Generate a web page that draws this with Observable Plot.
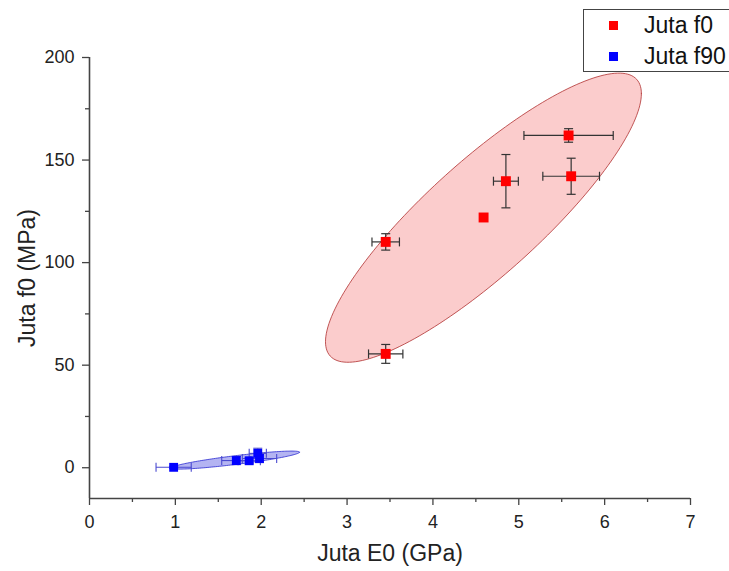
<!DOCTYPE html>
<html><head><meta charset="utf-8">
<script src="https://cdn.jsdelivr.net/npm/d3@7"></script>
<script src="https://cdn.jsdelivr.net/npm/@observablehq/plot@0.6"></script>
<style>
body{margin:0;background:#fff;}
#wrap{position:relative;width:729px;height:571px;overflow:hidden;font-family:"Liberation Sans",Arial,sans-serif;}
#legend{position:absolute;left:583px;top:9px;width:170px;height:63px;border:1px solid #444;background:#fff;box-sizing:border-box;}
.li{position:absolute;left:0;height:24px;display:flex;align-items:center;font-size:23px;color:#111;white-space:nowrap;}
.sw{width:9px;height:9px;margin-left:25px;margin-right:26px;}
</style></head><body><div id="wrap"><div id="legend"></div></div>
<script>
// ---- data ----
const seriesNames = ["Juta f0", "Juta f90"];
const seriesColors = ["#ff0000", "#0000ff"];
const f0E    = [3.45, 3.45, 4.59, 4.85, 5.58, 5.61];
const f0S    = [55.5, 110.1, 122.0, 139.7, 162.0, 142.1];
const f0Eerr = [0.20, 0.16, 0.0, 0.145, 0.52, 0.33];
const f0Serr = [4.6, 4.0, 0.0, 13.0, 3.3, 8.8];
const f90E    = [0.98, 1.71, 1.86, 1.96, 1.98];
const f90S    = [0.2, 3.5, 3.4, 7.0, 4.5];
const f90Eerr = [0.205, 0.17, 0.13, 0.10, 0.20];
const f90Serr = [0.5, 2.0, 1.5, 2.5, 2.0];
const xTicks = [0, 1, 2, 3, 4, 5, 6, 7];
const xMinor = [0.5, 1.5, 2.5, 3.5, 4.5, 5.5, 6.5];
const yTicks = [0, 50, 100, 150, 200];
const yMinor = [25, 75, 125, 175];

// ---- build tables ----
function rows(E, S, eE, eS, name) {
  return E.map((x, i) => ({x, y: S[i], ex: eE[i], ey: eS[i], name}));
}
const red = rows(f0E, f0S, f0Eerr, f0Serr, seriesNames[0]);
const blue = rows(f90E, f90S, f90Eerr, f90Serr, seriesNames[1]);

// confidence ellipse from sample covariance
function ellipse(data, K) {
  const n = data.length;
  const mx = d3.mean(data, d => d.x), my = d3.mean(data, d => d.y);
  let sxx = 0, syy = 0, sxy = 0;
  for (const d of data) { sxx += (d.x-mx)**2; syy += (d.y-my)**2; sxy += (d.x-mx)*(d.y-my); }
  sxx /= n-1; syy /= n-1; sxy /= n-1;
  const l11 = Math.sqrt(sxx), l21 = sxy / l11, l22 = Math.sqrt(Math.max(0, syy - l21*l21));
  const pts = [];
  for (let i = 0; i <= 180; i++) {
    const t = i / 180 * 2 * Math.PI, c = Math.cos(t), s = Math.sin(t);
    pts.push({x: mx + K * l11 * c, y: my + K * (l21 * c + l22 * s)});
  }
  return pts;
}
const redEll = ellipse(red, 1.9), blueEll = ellipse(blue, 1.8);

const capV = {draw(ctx, size) { const h = Math.sqrt(size / Math.PI); ctx.moveTo(0, -h); ctx.lineTo(0, h); }};
const capH = {draw(ctx, size) { const h = Math.sqrt(size / Math.PI); ctx.moveTo(-h, 0); ctx.lineTo(h, 0); }};

function errMarks(data, color, w) {
  const hx = data.filter(d => d.ex > 0), hy = data.filter(d => d.ey > 0);
  return [
    Plot.link(hx, {x1: d => d.x - d.ex, x2: d => d.x + d.ex, y1: "y", y2: "y", stroke: color, strokeWidth: w}),
    Plot.link(hy, {x1: "x", x2: "x", y1: d => d.y - d.ey, y2: d => d.y + d.ey, stroke: color, strokeWidth: w}),
    Plot.dot(hx, {x: d => d.x - d.ex, y: "y", symbol: capV, r: 4.5, stroke: color, fill: "none", strokeWidth: w}),
    Plot.dot(hx, {x: d => d.x + d.ex, y: "y", symbol: capV, r: 4.5, stroke: color, fill: "none", strokeWidth: w}),
    Plot.dot(hy, {x: "x", y: d => d.y - d.ey, symbol: capH, r: 4.5, stroke: color, fill: "none", strokeWidth: w}),
    Plot.dot(hy, {x: "x", y: d => d.y + d.ey, symbol: capH, r: 4.5, stroke: color, fill: "none", strokeWidth: w})
  ];
}

const font = "'Liberation Sans', Arial, sans-serif";
const chart = Plot.plot({
  width: 729, height: 571,
  marginLeft: 89, marginRight: 39, marginTop: 57, marginBottom: 73,
  style: {fontFamily: font, background: "#fff", overflow: "visible"},
  x: {domain: [0, 7]},
  y: {domain: [-15, 200]},
  marks: [
    Plot.line(redEll, {x: "x", y: "y", fill: "#fbcccc", stroke: "#b03030", strokeWidth: 0.8}),
    Plot.line(blueEll, {x: "x", y: "y", fill: "#b4b4f2", stroke: "#2a2ad0", strokeWidth: 0.8}),
    ...errMarks(red, "#333333", 1.2),
    ...errMarks(blue, "#4a4ad0", 1.1),
    Plot.dot(red, {x: "x", y: "y", symbol: "square", r: 5.6, fill: seriesColors[0], stroke: "none"}),
    Plot.dot(blue, {x: "x", y: "y", symbol: "square", r: 5.0, fill: seriesColors[1], stroke: "none"}),
    Plot.axisX({ticks: xTicks, tickFormat: d3.format("d"), tickSize: 7, tickPadding: 10, fontSize: 18, stroke: "#444", fill: "#222", label: null, strokeWidth: 1.3}),
    Plot.axisX({ticks: xMinor, tickSize: 4, tickFormat: () => "", stroke: "#444", label: null, strokeWidth: 1.3}),
    Plot.axisY({ticks: yTicks, tickFormat: d3.format("d"), tickSize: 7, tickPadding: 8, fontSize: 18, stroke: "#444", fill: "#222", label: null, strokeWidth: 1.3}),
    Plot.axisY({ticks: yMinor, tickSize: 4, tickFormat: () => "", stroke: "#444", label: null, strokeWidth: 1.3}),
    Plot.ruleX([0], {stroke: "#444", strokeWidth: 1.6}),
    Plot.ruleY([-15], {stroke: "#444", strokeWidth: 1.6}),
    Plot.text(["Juta E0 (GPa)"], {frameAnchor: "bottom", dy: 55, fontSize: 23, fill: "#222", lineAnchor: "middle", textAnchor: "middle"}),
    Plot.text(["Juta f0 (MPa)"], {frameAnchor: "left", dx: -62, rotate: -90, fontSize: 23, fill: "#222", lineAnchor: "middle", textAnchor: "middle"})
  ]
});
const wrap = document.getElementById("wrap");
wrap.insertBefore(chart, wrap.firstChild);
chart.style.position = "absolute"; chart.style.left = "0"; chart.style.top = "0";

const leg = document.getElementById("legend");
const rowTops = [3, 34];
seriesNames.forEach((n, i) => {
  const item = document.createElement("div");
  item.className = "li";
  item.style.top = rowTops[i] + "px";
  const sw = document.createElement("div");
  sw.className = "sw"; sw.style.background = seriesColors[i];
  const tx = document.createElement("span"); tx.textContent = n;
  item.appendChild(sw); item.appendChild(tx);
  leg.appendChild(item);
});
</script>
</body></html>
